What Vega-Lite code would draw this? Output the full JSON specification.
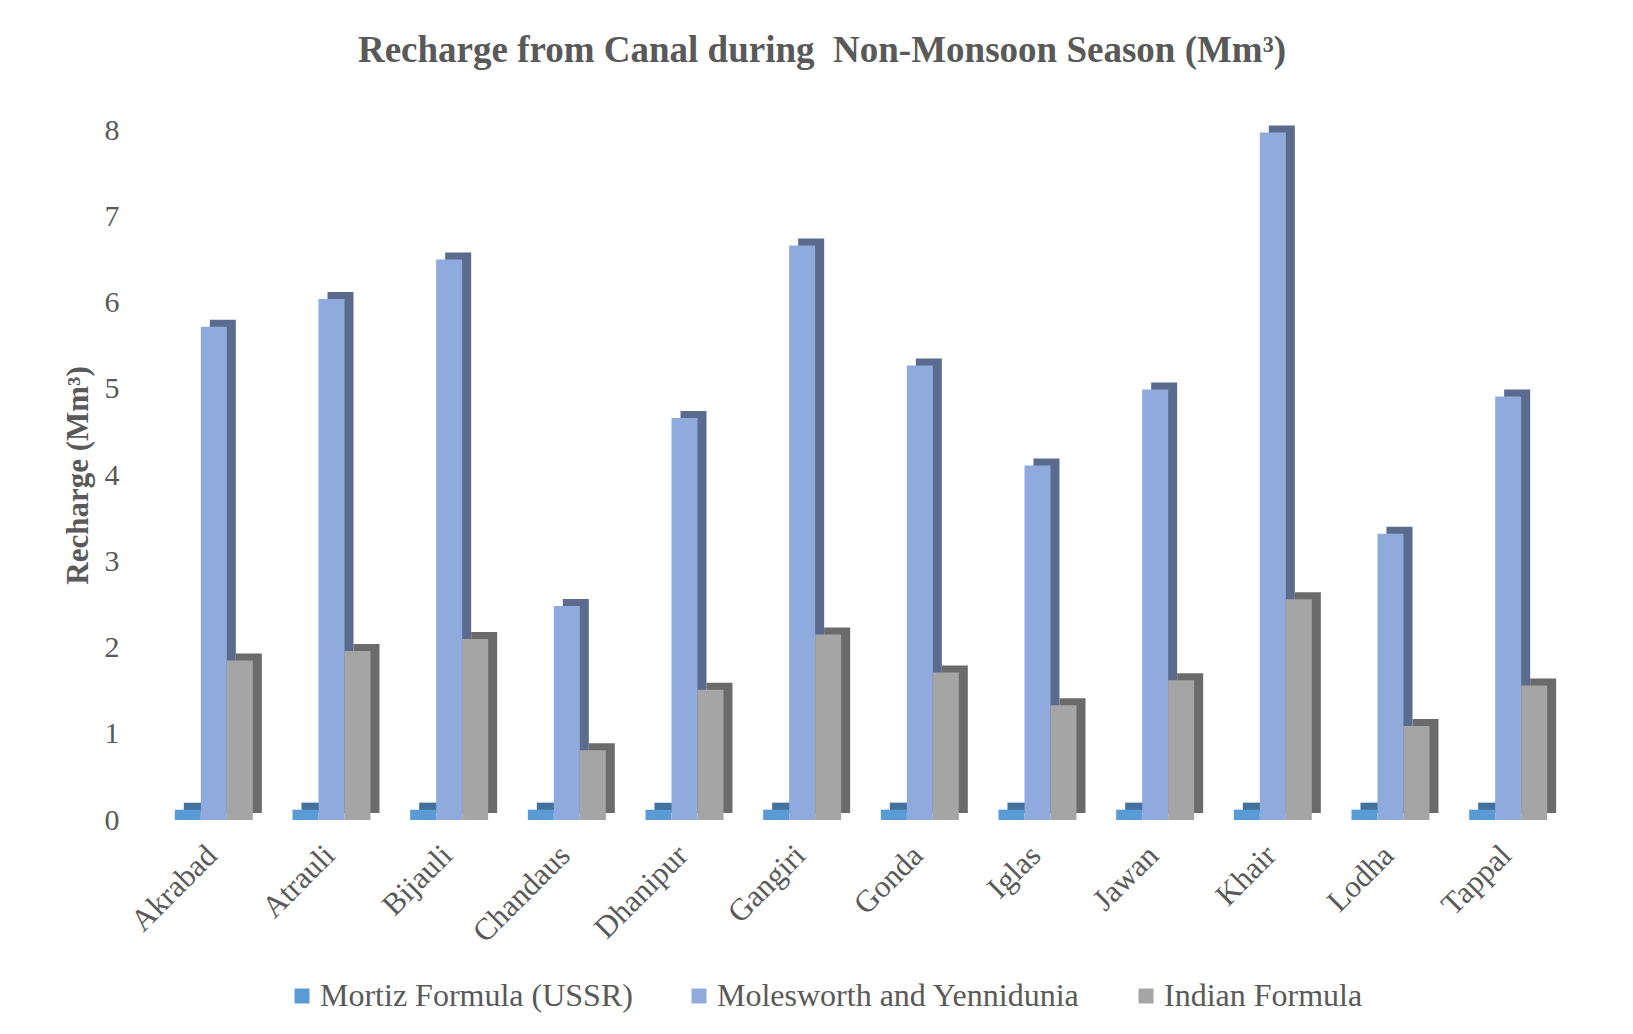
{
  "$schema": "https://vega.github.io/schema/vega-lite/v6.json",
  "width": 1412,
  "height": 690,
  "autosize": {"type": "none"},
  "padding": {"left": 155, "top": 130, "right": 66, "bottom": 214},
  "background": "white",
  "title": {
    "text": "Recharge from Canal during\u00a0 Non-Monsoon Season (Mm³)",
    "font": "Liberation Serif",
    "fontSize": 37,
    "fontWeight": "bold",
    "color": "#595959",
    "anchor": "middle",
    "frame": "group",
    "dx": -39,
    "offset": 45
  },
  "data": {
    "values": [
      {"District": "Akrabad", "Series": "Mortiz Formula (USSR)", "Recharge": 0.12},
      {"District": "Akrabad", "Series": "Molesworth and Yennidunia", "Recharge": 5.72},
      {"District": "Akrabad", "Series": "Indian Formula", "Recharge": 1.85},
      {"District": "Atrauli", "Series": "Mortiz Formula (USSR)", "Recharge": 0.12},
      {"District": "Atrauli", "Series": "Molesworth and Yennidunia", "Recharge": 6.04},
      {"District": "Atrauli", "Series": "Indian Formula", "Recharge": 1.96},
      {"District": "Bijauli", "Series": "Mortiz Formula (USSR)", "Recharge": 0.12},
      {"District": "Bijauli", "Series": "Molesworth and Yennidunia", "Recharge": 6.5},
      {"District": "Bijauli", "Series": "Indian Formula", "Recharge": 2.1},
      {"District": "Chandaus", "Series": "Mortiz Formula (USSR)", "Recharge": 0.12},
      {"District": "Chandaus", "Series": "Molesworth and Yennidunia", "Recharge": 2.48},
      {"District": "Chandaus", "Series": "Indian Formula", "Recharge": 0.81},
      {"District": "Dhanipur", "Series": "Mortiz Formula (USSR)", "Recharge": 0.12},
      {"District": "Dhanipur", "Series": "Molesworth and Yennidunia", "Recharge": 4.66},
      {"District": "Dhanipur", "Series": "Indian Formula", "Recharge": 1.51},
      {"District": "Gangiri", "Series": "Mortiz Formula (USSR)", "Recharge": 0.12},
      {"District": "Gangiri", "Series": "Molesworth and Yennidunia", "Recharge": 6.66},
      {"District": "Gangiri", "Series": "Indian Formula", "Recharge": 2.15},
      {"District": "Gonda", "Series": "Mortiz Formula (USSR)", "Recharge": 0.12},
      {"District": "Gonda", "Series": "Molesworth and Yennidunia", "Recharge": 5.27},
      {"District": "Gonda", "Series": "Indian Formula", "Recharge": 1.71},
      {"District": "Iglas", "Series": "Mortiz Formula (USSR)", "Recharge": 0.12},
      {"District": "Iglas", "Series": "Molesworth and Yennidunia", "Recharge": 4.11},
      {"District": "Iglas", "Series": "Indian Formula", "Recharge": 1.33},
      {"District": "Jawan", "Series": "Mortiz Formula (USSR)", "Recharge": 0.12},
      {"District": "Jawan", "Series": "Molesworth and Yennidunia", "Recharge": 4.99},
      {"District": "Jawan", "Series": "Indian Formula", "Recharge": 1.62},
      {"District": "Khair", "Series": "Mortiz Formula (USSR)", "Recharge": 0.12},
      {"District": "Khair", "Series": "Molesworth and Yennidunia", "Recharge": 7.97},
      {"District": "Khair", "Series": "Indian Formula", "Recharge": 2.56},
      {"District": "Lodha", "Series": "Mortiz Formula (USSR)", "Recharge": 0.12},
      {"District": "Lodha", "Series": "Molesworth and Yennidunia", "Recharge": 3.32},
      {"District": "Lodha", "Series": "Indian Formula", "Recharge": 1.09},
      {"District": "Tappal", "Series": "Mortiz Formula (USSR)", "Recharge": 0.12},
      {"District": "Tappal", "Series": "Molesworth and Yennidunia", "Recharge": 4.91},
      {"District": "Tappal", "Series": "Indian Formula", "Recharge": 1.56}
    ]
  },
  "encoding": {
    "x": {
      "field": "District",
      "type": "nominal",
      "sort": null,
      "scale": {"paddingInner": 0.337, "paddingOuter": 0.1685},
      "axis": {
        "title": null,
        "labelAngle": -45,
        "labelFont": "Liberation Serif",
        "labelFontSize": 31,
        "labelColor": "#595959",
        "labelPadding": 20,
        "labelOffset": -12,
        "ticks": false,
        "domain": false,
        "grid": false
      }
    },
    "y": {
      "field": "Recharge",
      "type": "quantitative",
      "scale": {"domain": [0, 8], "nice": false},
      "axis": {
        "title": "Recharge (Mm³)",
        "titleFont": "Liberation Serif",
        "titleFontSize": 31,
        "titleFontWeight": "bold",
        "titleColor": "#595959",
        "titlePadding": 10,
        "values": [0, 1, 2, 3, 4, 5, 6, 7, 8],
        "labelFont": "Liberation Serif",
        "labelFontSize": 30,
        "labelColor": "#595959",
        "labelPadding": 36,
        "ticks": false,
        "domain": false,
        "grid": false
      }
    }
  },
  "layer": [
    {
      "mark": {"type": "bar", "yOffset": -7, "y2Offset": -7},
      "encoding": {
        "xOffset": {
          "field": "Series",
          "type": "nominal",
          "sort": ["Mortiz Formula (USSR)", "Molesworth and Yennidunia", "Indian Formula"],
          "scale": {"paddingInner": 0, "paddingOuter": 0, "range": [9, 87]}
        },
        "color": {
          "field": "Series",
          "type": "nominal",
          "scale": {
            "domain": ["Mortiz Formula (USSR)", "Molesworth and Yennidunia", "Indian Formula"],
            "range": ["#41719c", "#5b6b8d", "#6b6b6b"]
          },
          "legend": null
        }
      }
    },
    {
      "mark": {"type": "bar"},
      "encoding": {
        "xOffset": {
          "field": "Series",
          "type": "nominal",
          "sort": ["Mortiz Formula (USSR)", "Molesworth and Yennidunia", "Indian Formula"],
          "scale": {"paddingInner": 0, "paddingOuter": 0, "range": [0, 78]}
        },
        "color": {
          "field": "Series",
          "type": "nominal",
          "sort": ["Mortiz Formula (USSR)", "Molesworth and Yennidunia", "Indian Formula"],
          "scale": {
            "domain": ["Mortiz Formula (USSR)", "Molesworth and Yennidunia", "Indian Formula"],
            "range": ["#5b9bd5", "#8faadc", "#a5a5a5"]
          },
          "legend": {
            "title": null,
            "orient": "none",
            "direction": "horizontal",
            "legendX": 131,
            "legendY": 850,
            "symbolType": "square",
            "symbolSize": 225,
            "symbolStrokeWidth": 0,
            "labelFont": "Liberation Serif",
            "labelFontSize": 32,
            "labelColor": "#595959",
            "labelOffset": 2,
            "columnPadding": 50,
            "labelLimit": 600
          }
        }
      }
    }
  ],
  "resolve": {"scale": {"color": "independent", "xOffset": "independent"}},
  "config": {"view": {"stroke": null}, "font": "Liberation Serif"}
}
